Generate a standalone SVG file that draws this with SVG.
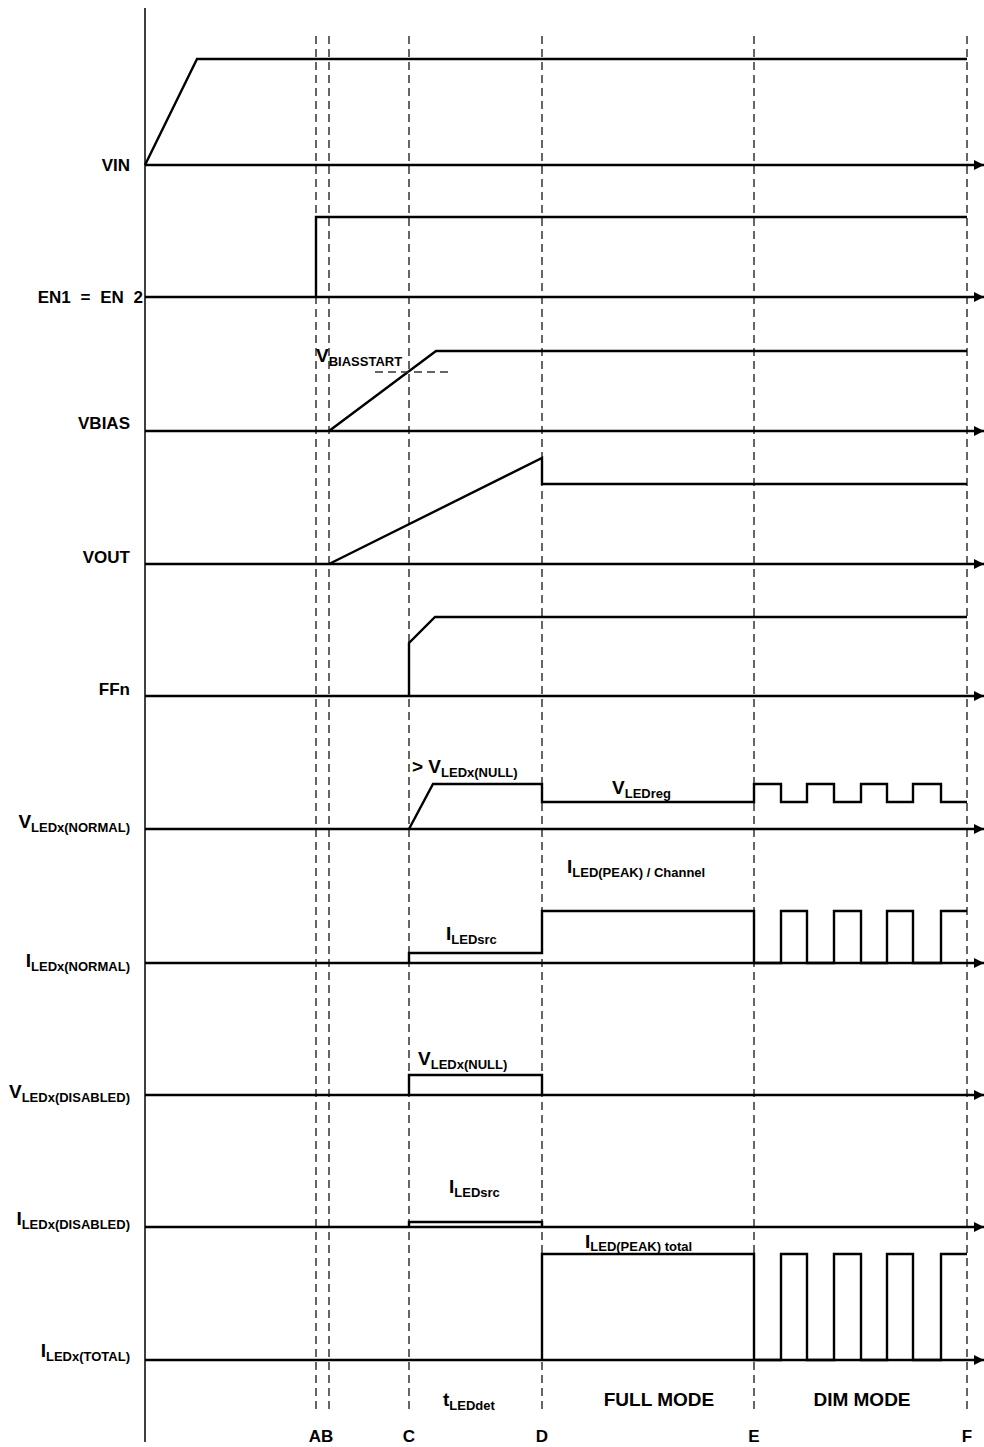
<svg xmlns="http://www.w3.org/2000/svg" width="984" height="1447" viewBox="0 0 984 1447">
<style>
  .lbl{font-family:"Liberation Sans",Arial,sans-serif;font-weight:bold;font-size:17px;fill:#000}
  .big{font-size:19px}
  .sub{font-size:13px}
  .ax{stroke:#000;stroke-width:2.5;fill:none}
  .wf{stroke:#000;stroke-width:2.4;fill:none;stroke-linejoin:miter}
  .dash{stroke:#333;stroke-width:1.5;stroke-dasharray:8 5;fill:none}
  .thin{stroke:#000;stroke-width:1.5;fill:none}
</style>
<defs>
  <marker id="arr" viewBox="0 0 10 10" refX="10" refY="5" markerWidth="10" markerHeight="10" markerUnits="userSpaceOnUse" orient="auto">
    <path d="M0,0 L10,5 L0,10 Z" fill="#000"/>
  </marker>
</defs>
<rect width="984" height="1447" fill="#fff"/>

<g id="connectors">
  <line class="thin" x1="145" y1="8" x2="145" y2="1442"/>
  <g id="markers">
    <line class="dash" x1="316" y1="36" x2="316" y2="1410"/>
    <line class="dash" x1="329" y1="36" x2="329" y2="1410"/>
    <line class="dash" x1="409" y1="36" x2="409" y2="1410"/>
    <line class="dash" x1="542" y1="36" x2="542" y2="1410"/>
    <line class="dash" x1="754" y1="36" x2="754" y2="1410"/>
    <line class="dash" x1="967" y1="36" x2="967" y2="1410"/>
  </g>
  <g id="baselines">
    <line class="ax" x1="145" y1="165" x2="984" y2="165" marker-end="url(#arr)"/>
    <line class="ax" x1="145" y1="297" x2="984" y2="297" marker-end="url(#arr)"/>
    <line class="ax" x1="145" y1="431" x2="984" y2="431" marker-end="url(#arr)"/>
    <line class="ax" x1="145" y1="564" x2="984" y2="564" marker-end="url(#arr)"/>
    <line class="ax" x1="145" y1="696" x2="984" y2="696" marker-end="url(#arr)"/>
    <line class="ax" x1="145" y1="829" x2="984" y2="829" marker-end="url(#arr)"/>
    <line class="ax" x1="145" y1="963" x2="984" y2="963" marker-end="url(#arr)"/>
    <line class="ax" x1="145" y1="1095" x2="984" y2="1095" marker-end="url(#arr)"/>
    <line class="ax" x1="145" y1="1227" x2="984" y2="1227" marker-end="url(#arr)"/>
    <line class="ax" x1="145" y1="1360" x2="984" y2="1360" marker-end="url(#arr)"/>
  </g>
</g>

<g id="vin">
  <text class="lbl" x="130" y="171" text-anchor="end">VIN</text>
  <polyline class="wf" points="145,165 197,59 967,59"/>
</g>

<g id="en">
  <text class="lbl" x="143" y="303" text-anchor="end" font-size="18" word-spacing="5">EN1 = EN 2</text>
  <polyline class="wf" points="316,297 316,217 967,217"/>
</g>

<g id="vbias">
  <text class="lbl" x="130" y="429" text-anchor="end">VBIAS</text>
  <polyline class="wf" points="329,431 436,351 967,351"/>
  <line class="dash" x1="375" y1="372" x2="453" y2="372" stroke="#000"/>
  <text class="lbl big" x="316" y="362">V<tspan class="sub" dy="4">BIASSTART</tspan></text>
</g>

<g id="vout">
  <text class="lbl" x="130" y="563" text-anchor="end">VOUT</text>
  <polyline class="wf" points="329,564 542,458 542,484 967,484"/>
</g>

<g id="ffn">
  <text class="lbl" x="130" y="695" text-anchor="end">FFn</text>
  <polyline class="wf" points="409,696 409,643 435,617 967,617"/>
</g>

<g id="vled-normal">
  <text class="lbl big" x="130" y="828" text-anchor="end">V<tspan class="sub" dy="4">LEDx(NORMAL)</tspan></text>
  <polyline class="wf" points="409,829 433,784 542,784 542,802 754,802 754,784 781,784 781,802 807,802 807,784 834,784 834,802 861,802 861,784 887,784 887,802 913,802 913,784 941,784 941,802 967,802"/>
  <text class="lbl big" x="412" y="773">&gt; V<tspan class="sub" dy="4">LEDx(NULL)</tspan></text>
  <text class="lbl big" x="612" y="794">V<tspan class="sub" dy="4">LEDreg</tspan></text>
</g>

<g id="iled-normal">
  <text class="lbl big" x="130" y="967" text-anchor="end">I<tspan class="sub" dy="4">LEDx(NORMAL)</tspan></text>
  <polyline class="wf" points="409,963 409,953 542,953 542,911 754,911 754,963 781,963 781,911 807,911 807,963 834,963 834,911 861,911 861,963 887,963 887,911 913,911 913,963 941,963 941,911 967,911"/>
  <text class="lbl big" x="446" y="940">I<tspan class="sub" dy="4">LEDsrc</tspan></text>
  <text class="lbl big" x="567" y="873">I<tspan class="sub" dy="4">LED(PEAK)  / Channel</tspan></text>
</g>

<g id="vled-disabled">
  <text class="lbl big" x="130" y="1098" text-anchor="end">V<tspan class="sub" dy="4">LEDx(DISABLED)</tspan></text>
  <polyline class="wf" points="409,1095 409,1075 542,1075 542,1095"/>
  <text class="lbl big" x="418" y="1065">V<tspan class="sub" dy="4">LEDx(NULL)</tspan></text>
</g>

<g id="iled-disabled">
  <text class="lbl big" x="130" y="1225" text-anchor="end">I<tspan class="sub" dy="4">LEDx(DISABLED)</tspan></text>
  <polyline class="wf" points="409,1227 409,1222 542,1222 542,1227"/>
  <text class="lbl big" x="449" y="1193">I<tspan class="sub" dy="4">LEDsrc</tspan></text>
</g>

<g id="iled-total">
  <text class="lbl big" x="130" y="1357" text-anchor="end">I<tspan class="sub" dy="4">LEDx(TOTAL)</tspan></text>
  <polyline class="wf" points="542,1360 542,1254 754,1254 754,1360 781,1360 781,1254 807,1254 807,1360 834,1360 834,1254 861,1254 861,1360 887,1360 887,1254 913,1254 913,1360 941,1360 941,1254 967,1254"/>
  <text class="lbl big" x="585" y="1248">I<tspan class="sub" dy="3">LED(PEAK)  total</tspan></text>
</g>

<g id="phases">
  <text class="lbl big" x="443" y="1406">t<tspan class="sub" dy="4">LEDdet</tspan></text>
  <text class="lbl big" x="659" y="1406" text-anchor="middle">FULL MODE</text>
  <text class="lbl big" x="862" y="1406" text-anchor="middle">DIM MODE</text>
</g>

<g id="time-labels">
  <text class="lbl" x="321" y="1442" text-anchor="middle" font-size="18">AB</text>
  <text class="lbl" x="409" y="1442" text-anchor="middle" font-size="18">C</text>
  <text class="lbl" x="542" y="1442" text-anchor="middle" font-size="18">D</text>
  <text class="lbl" x="754" y="1442" text-anchor="middle" font-size="18">E</text>
  <text class="lbl" x="967" y="1442" text-anchor="middle" font-size="18">F</text>
</g>
</svg>
